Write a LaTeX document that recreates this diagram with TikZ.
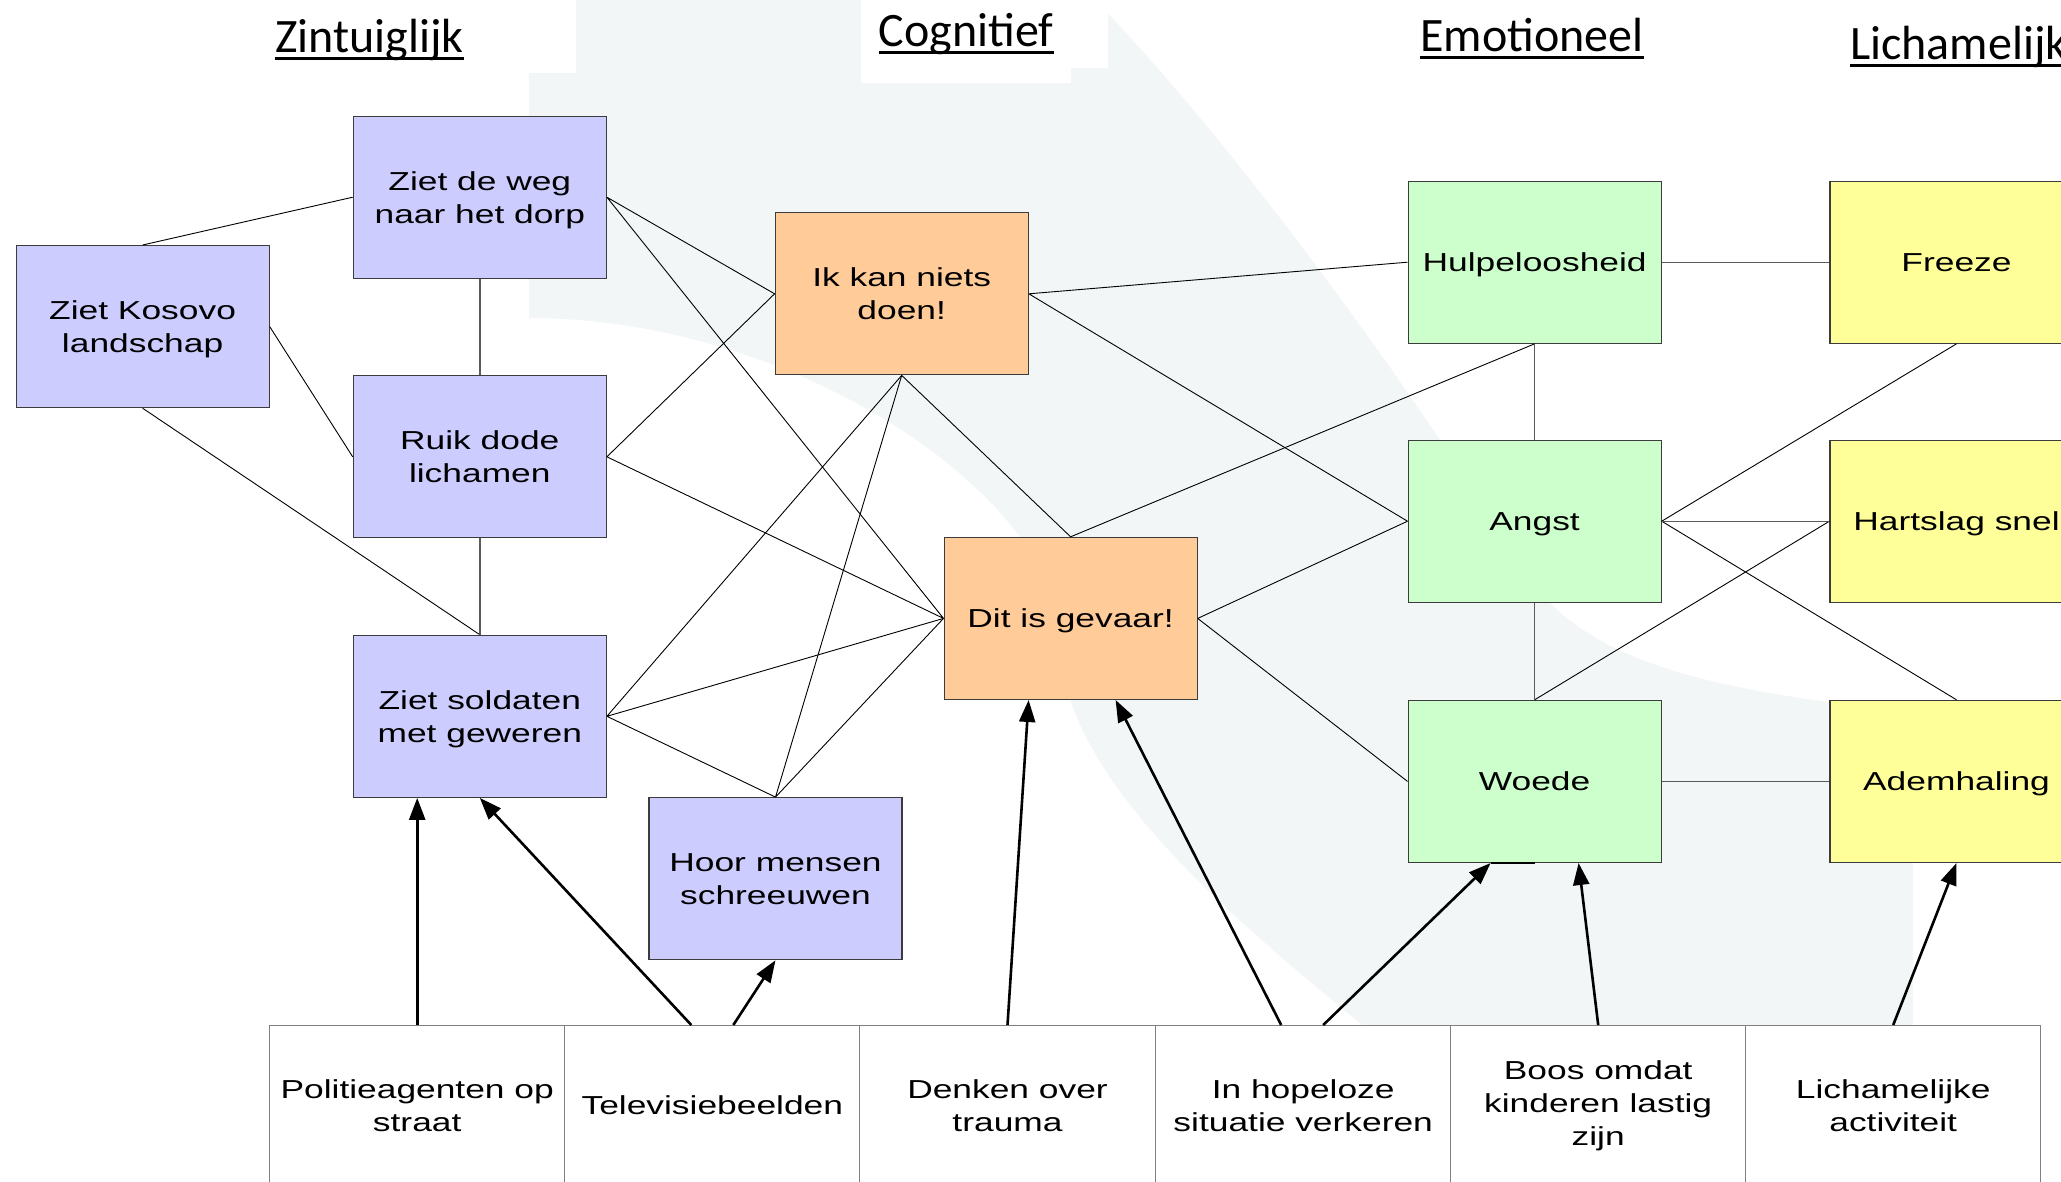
\documentclass[tikz,border=0pt]{standalone}
\usepackage{fontspec}
\setmainfont{Liberation Sans}[FakeStretch=1.36]
\newfontfamily\kopfont{Carlito}
\usetikzlibrary{arrows.meta}
\definecolor{zintuig}{RGB}{204,204,255}
\definecolor{cognitief}{RGB}{255,204,153}
\definecolor{emotie}{RGB}{204,255,204}
\definecolor{lichaam}{RGB}{255,255,153}
\definecolor{achtergrond}{RGB}{243,246,247}
\definecolor{rand}{RGB}{60,60,60}
\definecolor{lijn}{RGB}{90,90,90}
\tikzset{
    >={Triangle[length=22pt,width=16pt]},
    vak/.style={draw=rand, line width=1.2pt, minimum width=253pt, minimum height=162pt,
        align=center, text depth=0pt, font=\fontsize{26}{33}\selectfont},
    zintuigvak/.style={vak, fill=zintuig},
    cognitiefvak/.style={vak, fill=cognitief},
    emotievak/.style={vak, fill=emotie},
    lichaamvak/.style={vak, fill=lichaam},
    oorzaak/.style={draw=gray, fill=white, line width=1.2pt, anchor=north,
        minimum width=295.3pt, minimum height=160pt, align=center,
        font=\fontsize{26}{33}\selectfont},
    kop/.style={font=\kopfont\fontsize{48}{56}\selectfont, inner sep=0pt},
    dun/.style={line width=0.9pt},
    recht/.style={draw=lijn, line width=1.4pt},
    stuur/.style={->, line width=2.6pt},
}
\begin{document}
\begin{tikzpicture}[x=1pt, y=-1pt]
    \clip (0,0) rectangle (2061,1181);
    \fill[white] (0,0) rectangle (2061,1181);
    % achtergrond
    \fill[achtergrond] (576,0) -- (1095,0) .. controls (1250,160) and (1440,430) .. (1530,580)
        .. controls (1590,660) and (1700,690) .. (1913,712) -- (1913,1030) -- (1368,1030)
        .. controls (1242,925) and (1060,780) .. (1060,640)
        .. controls (1060,500) and (800,318) .. (529,318) -- (529,73) -- (576,73) -- cycle;
    \fill[white] (861,0) rectangle (1071,83) (1071,0) rectangle (1108,68);

    % koppen
    \node[kop, anchor=base] (kz) at (369.5,52.5) {Zintuiglijk};
    \node[kop, anchor=base] (kc) at (966,46.7) {Cognitief};
    \node[kop, anchor=base] (ke) at (1532,51.7) {Emotioneel};
    \node[kop, anchor=base west] (kl) at (1850,59) {Lichamelijk};
    \foreach \k in {kz,kc,ke,kl}
        \draw[line width=3pt] ([yshift=-6pt]\k.base west) -- ([yshift=-6pt]\k.base east);

    \node[zintuigvak] (kosovo) at (142.6,326.6) {Ziet Kosovo\\landschap};
    \node[zintuigvak] (weg) at (479.8,197.2) {Ziet de weg\\naar het dorp};
    \node[zintuigvak] (ruik) at (479.8,456.8) {Ruik dode\\lichamen};
    \node[zintuigvak] (soldaten) at (479.8,716.3) {Ziet soldaten\\met geweren};
    \node[zintuigvak] (hoor) at (775.5,878.7) {Hoor mensen\\schreeuwen};
    \node[cognitiefvak] (niets) at (901.7,293.8) {Ik kan niets\\doen!};
    \node[cognitiefvak] (gevaar) at (1070.6,618.4) {Dit is gevaar!};
    \node[emotievak] (hulp) at (1534.6,262.2) {Hulpeloosheid};
    \node[emotievak] (angst) at (1534.6,521.2) {Angst};
    \node[emotievak] (woede) at (1534.6,781.4) {Woede};
    \node[lichaamvak] (freeze) at (1956.5,262.2) {Freeze};
    \node[lichaamvak] (hartslag) at (1956.5,521.2) {Hartslag snel};
    \node[lichaamvak] (adem) at (1956.5,781.4) {Ademhaling};

    \node[oorzaak] (politie) at (417.2,1025) {Politieagenten op\\straat};
    \node[oorzaak] (tv) at (712.3,1025) {Televisiebeelden};
    \node[oorzaak] (denken) at (1007.5,1025) {Denken over\\trauma};
    \node[oorzaak] (hopeloos) at (1303.2,1025) {In hopeloze\\situatie verkeren};
    \node[oorzaak] (boos) at (1598.2,1025) {Boos omdat\\kinderen lastig\\zijn};
    \node[oorzaak] (activiteit) at (1893.2,1025) {Lichamelijke\\activiteit};

    % verbindingen
    \draw[dun] (kosovo.north) -- (weg.west) (kosovo.east) -- (ruik.west)
        (kosovo.south) -- (soldaten.north);
    \draw[dun] (weg.east) -- (niets.west) (weg.east) -- (gevaar.west)
        (ruik.east) -- (niets.west) (ruik.east) -- (gevaar.west);
    \draw[dun] (soldaten.east) -- (niets.south) (soldaten.east) -- (gevaar.west)
        (soldaten.east) -- (hoor.north);
    \draw[dun] (hoor.north) -- (niets.south) (hoor.north) -- (gevaar.west);
    \draw[dun] (niets.south) -- (gevaar.north) (niets.east) -- (hulp.west)
        (niets.east) -- (angst.west);
    \draw[dun] (gevaar.north) -- (hulp.south) (gevaar.east) -- (angst.west)
        (gevaar.east) -- (woede.west);
    \draw[dun] (angst.east) -- (freeze.south) (angst.east) -- (adem.north)
        (woede.north) -- (hartslag.west);
    \draw[recht] (weg.south) -- (ruik.north) (ruik.south) -- (soldaten.north);
    \draw[recht] (hulp.south) -- (angst.north) (angst.south) -- (woede.north);
    \draw[recht] (hulp.east) -- (freeze.west) (angst.east) -- (hartslag.west)
        (woede.east) -- (adem.west);

    % oorzaken
    \draw[stuur] (politie.north) -- (politie.north |- soldaten.south);
    \draw[stuur] ([xshift=-21pt]tv.north) -- (soldaten.south);
    \draw[stuur] ([xshift=21pt]tv.north) -- (hoor.south);
    \draw[stuur] (denken.north) -- ([xshift=-42pt]gevaar.south);
    \draw[stuur] ([xshift=-22pt]hopeloos.north) -- ([xshift=45pt]gevaar.south);
    \draw[stuur] ([xshift=20pt]hopeloos.north) -- ([xshift=-44pt]woede.south);
    \draw[line width=2.6pt] ([xshift=-44pt]woede.south) -- (woede.south);
    \draw[stuur] (boos.north) -- ([xshift=44pt]woede.south);
    \draw[stuur] (activiteit.north) -- (adem.south);
\end{tikzpicture}
\end{document}
